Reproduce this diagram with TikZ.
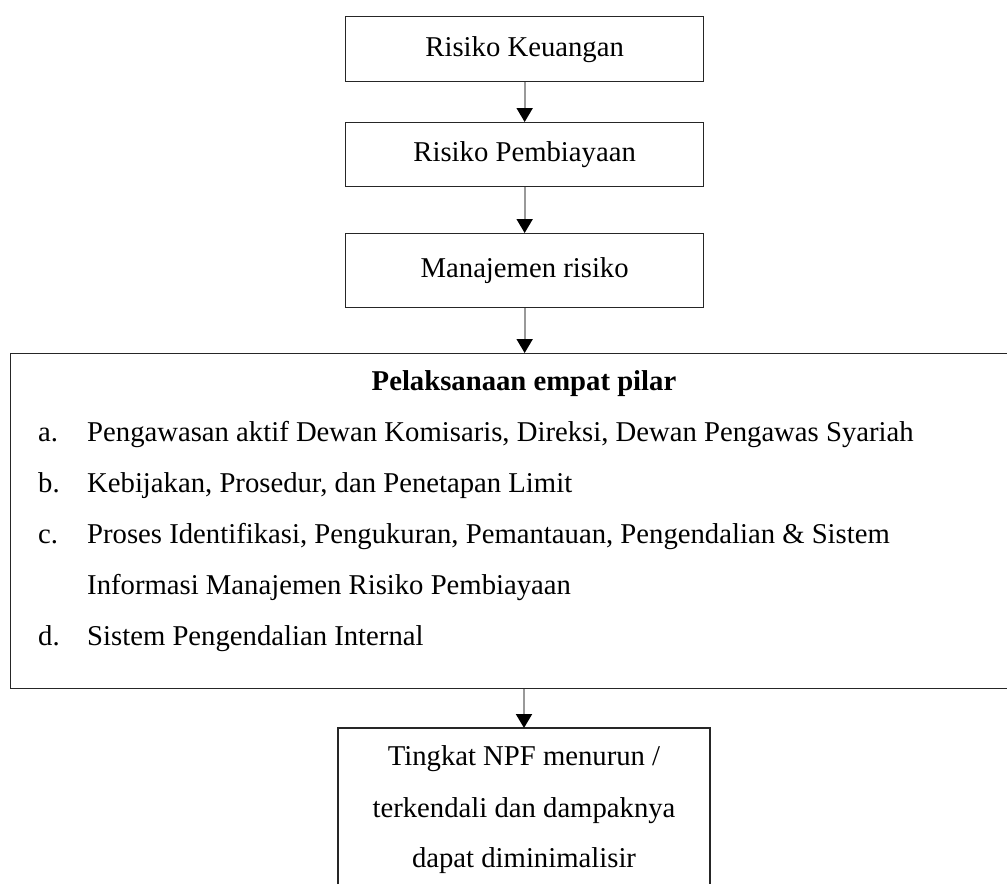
\documentclass[tikz,border=0pt]{standalone}
\usepackage{fontspec}
\setmainfont{Liberation Serif}
\usetikzlibrary{arrows.meta}
\begin{document}
\begin{tikzpicture}[x=1pt,y=-1pt,
  f/.style={font=\fontsize{28.7}{51}\selectfont},
  box/.style={f, draw=black!85, line width=1.3pt, anchor=north west, inner sep=0pt, align=center},
  conn/.style={draw=black!40, line width=2pt, -{Triangle[width=16pt,length=14pt,color=black]}},
  txt/.style={f, anchor=base west, inner sep=0pt}]
\useasboundingbox (0,0) rectangle (1007,884);
\node[box, minimum width=358pt, minimum height=65pt] (b1) at (345,16) {Risiko Keuangan};
\node[box, minimum width=358pt, minimum height=64pt] (b2) at (345,122) {Risiko Pembiayaan};
\node[box, minimum width=358pt, minimum height=74pt] (b3) at (345,233) {Manajemen risiko};
\node[draw=black!85, line width=1.3pt, anchor=north west, minimum width=1000pt, minimum height=335pt, inner sep=0pt] (big) at (10,353) {};
\node[txt, anchor=base, font=\fontsize{28.7}{51}\selectfont\bfseries] (title) at (524,390) {Pelaksanaan empat pilar};
\node[txt] (la) at (38,441) {a.};
\node[txt] (ta) at (87,441) {Pengawasan aktif Dewan Komisaris, Direksi, Dewan Pengawas Syariah};
\node[txt] (lb) at (38,492) {b.};
\node[txt] (tb) at (87,492) {Kebijakan, Prosedur, dan Penetapan Limit};
\node[txt] (lc) at (38,543) {c.};
\node[txt] (tc) at (87,543) {Proses Identifikasi, Pengukuran, Pemantauan, Pengendalian \& Sistem};
\node[txt] (tc2) at (87,594) {Informasi Manajemen Risiko Pembiayaan};
\node[txt] (ld) at (38,645) {d.};
\node[txt] (td) at (87,645) {Sistem Pengendalian Internal};
\coordinate (e1) at (338,884);
\coordinate (e2) at (710,884);
\draw[draw=black!85, line width=1.3pt] (e1) -- (338,728) -- (710,728) -- (e2);
\coordinate (bt) at (524,728);
\node[txt, anchor=base] (r1) at (524,765) {Tingkat NPF menurun /};
\node[txt, anchor=base] (r2) at (524,817) {terkendali dan dampaknya};
\node[txt, anchor=base] (r3) at (524,867) {dapat diminimalisir};
\draw[conn] (b1.south) -- (b2.north);
\draw[conn] (b2.south) -- (b3.north);
\draw[conn] (b3.south) -- (b3.south |- big.north);
\draw[conn] (big.south -| bt) -- (bt);
\end{tikzpicture}
\end{document}
